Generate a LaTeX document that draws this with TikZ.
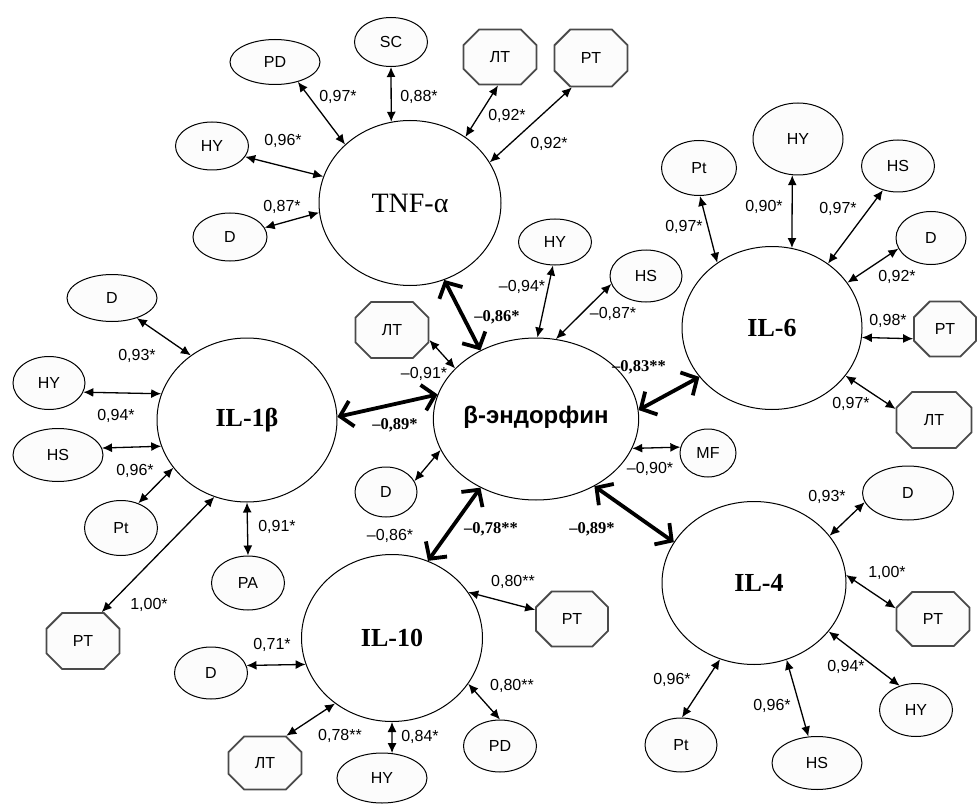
\documentclass[tikz,border=0pt]{standalone}
\usepackage{fontspec}
\setmainfont{Liberation Serif}
\newfontfamily\arialf{Liberation Sans}
\usetikzlibrary{shapes.geometric,shapes.misc,arrows.meta}
\definecolor{nodefill}{HTML}{FCFCFC}
\definecolor{octline}{HTML}{4A4A4A}
\begin{document}
\begin{tikzpicture}[x=1pt,y=-1pt,
  ell/.style={ellipse, draw=black, line width=1pt, fill=nodefill, inner sep=0pt, font=\arialf\fontsize{16}{16}\selectfont},
  oct/.style={chamfered rectangle, chamfered rectangle sep=15pt, draw=octline, line width=1.8pt, fill=nodefill, inner sep=0pt, font=\arialf\fontsize{16}{16}\selectfont},
  big/.style={ellipse, draw=black, line width=1pt, fill=white, inner sep=0pt},
  bigser/.style={big, font=\bfseries\fontsize{26}{26}\selectfont},
  lab/.style={font=\arialf\fontsize{16}{16}\selectfont, inner sep=0pt},
  blab/.style={font=\bfseries\fontsize{16.5}{16}\selectfont, inner sep=0pt},
  thin/.style={line width=1.3pt, {Latex[length=10pt,width=9pt]}-{Latex[length=10pt,width=9pt]}},
  thick/.style={line width=3.8pt, {Straight Barb[length=12pt,width=26pt]}-{Straight Barb[length=12pt,width=26pt]}}
]
\useasboundingbox[fill=white] (0,0) rectangle (977,805);

% big nodes
\node[big, minimum width=182pt, minimum height=165pt, font=\fontsize{28}{28}\selectfont] (tnf) at (410,203) {\raisebox{-4pt}{TNF-α}};
\node[bigser, minimum width=180pt, minimum height=164pt] (il1) at (247,420) {IL-1β};
\node[big, minimum width=182pt, minimum height=162pt, font=\arialf\bfseries\fontsize{24}{24}\selectfont] (bend) at (536,419) {\raisebox{8pt}{β-эндорфин}};
\node[bigser, minimum width=180pt, minimum height=163pt] (il6) at (772,328) {IL-6};
\node[bigser, minimum width=181pt, minimum height=167pt] (il10) at (392,638) {\raisebox{-4pt}{IL-10}};
\node[bigser, minimum width=184pt, minimum height=163pt] (il4) at (754,583) {\hspace*{10pt}IL-4};

% TNF group
\node[ell, minimum width=90pt, minimum height=45pt] (pd1) at (275,62) {PD};
\node[ell, minimum width=73pt, minimum height=49pt] (sc) at (391,42) {SC};
\node[oct, minimum width=73pt, minimum height=55pt] (lt1) at (500,57) {ЛТ};
\node[oct, minimum width=73pt, minimum height=57pt] (pt1) at (591,58) {PT};
\node[ell, minimum width=73pt, minimum height=48pt] (hy1) at (212,146) {HY};
\node[ell, minimum width=74pt, minimum height=48pt] (d1) at (230,237) {D};

% IL-1b group
\node[ell, minimum width=90pt, minimum height=47pt] (d2) at (112,298) {D};
\node[ell, minimum width=72pt, minimum height=53pt] (hy2) at (49,383) {HY};
\node[ell, minimum width=90pt, minimum height=53pt] (hs2) at (58,455) {HS};
\node[ell, minimum width=73pt, minimum height=55pt] (ptl2) at (121,528) {Pt};
\node[ell, minimum width=73pt, minimum height=54pt] (pa) at (248,583) {PA};
\node[oct, minimum width=73pt, minimum height=56pt] (pt2) at (83,641) {PT};

% beta-endorphin group
\node[oct, minimum width=73pt, minimum height=56pt] (lt3) at (392,330) {ЛТ};
\node[ell, minimum width=62pt, minimum height=50pt] (d3) at (386,492) {D};
\node[ell, minimum width=73pt, minimum height=46pt] (hy3) at (555,242) {HY};
\node[ell, minimum width=72pt, minimum height=52pt] (hs3) at (646,276) {HS};
\node[ell, minimum width=56pt, minimum height=48pt] (mf) at (708,453) {MF};

% IL-6 group
\node[ell, minimum width=75pt, minimum height=55pt] (ptl4) at (699,168) {Pt};
\node[ell, minimum width=90pt, minimum height=72pt] (hy4) at (798,139) {HY};
\node[ell, minimum width=73pt, minimum height=52pt] (hs4) at (898,166) {HS};
\node[ell, minimum width=70pt, minimum height=53pt] (d4) at (931,238) {D};
\node[oct, minimum width=62pt, minimum height=55pt] (pt4) at (945,329) {PT};
\node[oct, minimum width=75pt, minimum height=56pt] (lt4) at (934,420) {ЛТ};

% IL-10 group
\node[ell, minimum width=73pt, minimum height=52pt] (d5) at (211,673) {D};
\node[oct, minimum width=72pt, minimum height=55pt] (pt5) at (572,619) {PT};
\node[oct, minimum width=73pt, minimum height=53pt] (lt5) at (265,763) {ЛТ};
\node[ell, minimum width=90pt, minimum height=50pt] (hy5) at (382,778) {HY};
\node[ell, minimum width=73pt, minimum height=52pt] (pd5) at (500,746) {PD};

% IL-4 group
\node[ell, minimum width=91pt, minimum height=54pt] (d6) at (908,493) {D};
\node[oct, minimum width=73pt, minimum height=54pt] (pt6) at (933,619) {PT};
\node[ell, minimum width=73pt, minimum height=53pt] (hy6) at (916,710) {HY};
\node[ell, minimum width=90pt, minimum height=53pt] (hs6) at (817,763) {HS};
\node[ell, minimum width=72pt, minimum height=54pt] (ptl6) at (681,745) {Pt};

% connectors TNF
\draw[thin] (pd1.-41) -- (tnf.138);
\draw[thin] (sc.south) -- (tnf.103);
\draw[thin] (lt1.-94) -- (tnf.50);
\draw[thin] (pt1.-123) -- (tnf.27);
\draw[thin] (hy1.-18) -- (tnf.163);
\draw[thin] (d1.15) -- (tnf.-174);

% connectors IL-1b
\draw[thin] (d2.-39) -- (il1.131);
\draw[thin] (hy2.-15) -- (il1.163);
\draw[thin] (hs2.9) -- (il1.-163);
\draw[thin] (ptl2.55) -- (il1.-147);
\draw[thin] (pt2.57) -- (il1.-113);
\draw[thin] (pa.north) -- (il1.south);

% connectors beta-endorphin
\draw[thick] (il1.2.5) -- (bend.166);
\draw[thick] (tnf.-66.5) -- (bend.129);
\draw[thin] (lt3.-15) -- (bend.148);
\draw[thin] (hy3.-95) -- (bend.89);
\draw[thin] (hs3.-167) -- (bend.76);
\draw[thick] (il6.-146.5) -- (bend.5.6);
\draw[thin] (mf.168) -- (bend.-17);
\draw[thin] (d3.21) -- (bend.-162);
\draw[thick] (bend.-129) -- (il10.65);
\draw[thick] (bend.-49) -- (il4.153);

% connectors IL-6
\draw[thin] (ptl4.-88) -- (il6.130);
\draw[thin] (hy4.-99) -- (il6.76);
\draw[thin] (hs4.-122) -- (il6.49);
\draw[thin] (d4.-162) -- (il6.31);
\draw[thin] (pt4.-163) -- (il6.-6.3);
\draw[thin] (lt4.164.5) -- (il6.-33);

% connectors IL-10
\draw[thin] (d5.12) -- (il10.-163);
\draw[thin] (pt5.166) -- (il10.31);
\draw[thin] (pd5.90) -- (il10.-31.6);
\draw[thin] (hy5.68) -- (il10.south);
\draw[thin] (lt5.52) -- (il10.-131);

% connectors IL-4
\draw[thin] (d6.-168) -- (il4.32);
\draw[thin] (pt6.164.5) -- (il4.5);
\draw[thin] (hy6.124) -- (il4.-33);
\draw[thin] (hs6.108) -- (il4.-67);
\draw[thin] (ptl6.88) -- (il4.-114);

% labels TNF
\node[lab] (l1) at (338,97) {0,97*};
\node[lab] (l2) at (419,97) {0,88*};
\node[lab] (l3) at (507,116) {0,92*};
\node[lab] (l4) at (549,144) {0,92*};
\node[lab] (l5) at (283,141) {0,96*};
\node[lab] (l6) at (282,207) {0,87*};
% labels IL-1b
\node[lab] (l7) at (137,356) {0,93*};
\node[lab] (l8) at (116,416) {0,94*};
\node[lab] (l9) at (135,471) {0,96*};
\node[lab] (l10) at (277,527) {0,91*};
\node[lab] (l11) at (149,605) {1,00*};
% labels beta
\node[blab] (l12) at (395,425) {–0,89*};
\node[lab] (l13) at (424,374) {–0,91*};
\node[blab] (l14) at (497,317) {–0,86*};
\node[lab] (l15) at (522,287) {–0,94*};
\node[lab] (l16) at (613,314) {–0,87*};
\node[blab] (l17) at (639,367) {–0,83**};
\node[lab] (l18) at (650,469) {–0,90*};
\node[lab] (l19) at (390,536) {–0,86*};
\node[blab] (l20) at (491,529) {–0,78**};
\node[blab] (l21) at (592,529) {–0,89*};
% labels IL-6
\node[lab] (l22) at (684,227) {0,97*};
\node[lab] (l23) at (764,207) {0,90*};
\node[lab] (l24) at (838,209) {0,97*};
\node[lab] (l25) at (897,277) {0,92*};
\node[lab] (l26) at (888,321) {0,98*};
\node[lab] (l27) at (851,404) {0,97*};
% labels IL-10
\node[lab] (l28) at (272,645) {0,71*};
\node[lab] (l29) at (513,582) {0,80**};
\node[lab] (l30) at (512,686) {0,80**};
\node[lab] (l31) at (420,737) {0,84*};
\node[lab] (l32) at (340,736) {0,78**};
% labels IL-4
\node[lab] (l33) at (827,497) {0,93*};
\node[lab] (l34) at (887,573) {1,00*};
\node[lab] (l35) at (846,667) {0,94*};
\node[lab] (l36) at (772,706) {0,96*};
\node[lab] (l37) at (672,680) {0,96*};
\end{tikzpicture}
\end{document}
